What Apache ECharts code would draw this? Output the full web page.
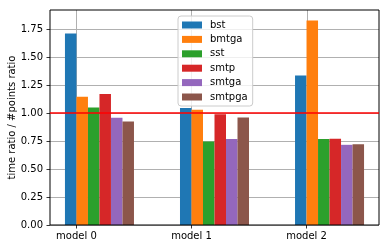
<!DOCTYPE html>
<html><head><meta charset="utf-8">
<script src="https://cdn.jsdelivr.net/npm/echarts@6/dist/echarts.min.js"></script>
<style>html,body{margin:0;padding:0;background:#fff}#c{width:390px;height:249px}</style>
</head><body><div id="c"></div>
<script>
const categories = ['model 0', 'model 1', 'model 2'];
const seriesNames = ['bst', 'bmtga', 'sst', 'smtp', 'smtga', 'smtpga'];
const bst    = [1.71, 1.045, 1.334];
const bmtga  = [1.145, 1.03, 1.826];
const sst    = [1.049, 0.746, 0.767];
const smtp   = [1.169, 0.99, 0.77];
const smtga  = [0.957, 0.767, 0.716];
const smtpga = [0.924, 0.96, 0.722];
const yTicks = [0, 0.25, 0.5, 0.75, 1.0, 1.25, 1.5, 1.75];
const xTicks = [0, 1, 2];
const refValue = 1.0;

const allValues = [bst, bmtga, sst, smtp, smtga, smtpga];
const colors = ['#1f77b4', '#ff7f0e', '#2ca02c', '#d62728', '#9467bd', '#8c564b'];
const barW = 0.1;
const font = 'DejaVu Sans';

const series = [];
// vertical grid lines (under the bars)
series.push({
  type: 'custom', z: 1, silent: true, clip: true,
  data: xTicks.map(v => [v]),
  renderItem: function (params, api) {
    const cs = params.coordSys;
    const px = Math.round(api.coord([api.value(0), 0])[0]) + 0.5;
    return {
      type: 'line',
      shape: { x1: px, y1: cs.y, x2: px, y2: cs.y + cs.height },
      style: { stroke: '#b0b0b0', lineWidth: 1 }
    };
  }
});
allValues.forEach((vals, k) => series.push({
  name: seriesNames[k],
  type: 'custom',
  z: 3,
  silent: true,
  itemStyle: { color: colors[k] },
  data: vals.map((v, i) => [i, v]),
  renderItem: function (params, api) {
    const x = api.value(0) + (k - 0.5) * barW;
    const p0 = api.coord([x - barW / 2, api.value(1)]);
    const p1 = api.coord([x + barW / 2, 0]);
    return {
      type: 'rect',
      shape: { x: p0[0], y: p0[1], width: p1[0] - p0[0], height: p1[1] - p0[1] },
      style: { fill: colors[k] }
    };
  }
}));
series.push({
  type: 'line', data: [], z: 4, silent: true,
  markLine: {
    silent: true, symbol: 'none', label: { show: false }, animation: false,
    lineStyle: { color: '#ff0000', width: 1.5, type: 'solid' },
    data: [{ yAxis: refValue }]
  }
});

const chart = echarts.init(document.getElementById('c'), null, { renderer: 'canvas' });
chart.setOption({
  animation: false,
  backgroundColor: '#fff',
  grid: { left: 50, right: 11, top: 10, bottom: 24, outerBoundsMode: 'none', containLabel: false,
          show: true, borderColor: '#000', borderWidth: 1, backgroundColor: 'transparent', z: 5 },
  legend: {
    orient: 'vertical', left: 178, top: 16,
    data: seriesNames,
    icon: 'rect', itemWidth: 20, itemHeight: 7, itemGap: 2.4,
    padding: [3, 5, 3, 4],
    backgroundColor: 'rgba(255,255,255,0.8)', borderColor: '#cccccc', borderWidth: 1, borderRadius: 3,
    textStyle: { fontFamily: font, fontSize: 10, color: '#000', lineHeight: 12, padding: [0, 0, 0, 3] },
    selectedMode: false, z: 10
  },
  xAxis: {
    type: 'value', min: -0.23, max: 2.63,
    axisLine: { show: false, onZero: false },
    axisTick: { show: true, customValues: xTicks, length: 3.5, lineStyle: { color: '#000', width: 0.8 } },
    axisLabel: { customValues: xTicks, formatter: v => categories[Math.round(v)], fontFamily: font, fontSize: 10, color: '#000', margin: 6 },
    splitLine: { show: false }
  },
  yAxis: {
    type: 'value', min: 0, max: 1.92, interval: 0.25,
    name: 'time ratio / #points ratio', nameLocation: 'middle', nameGap: 33, nameMoveOverlap: false,
    nameTextStyle: { fontFamily: font, fontSize: 10, color: '#000' },
    axisLine: { show: false, onZero: false },
    axisTick: { show: true, customValues: yTicks, length: 3.5, lineStyle: { color: '#000', width: 0.8 } },
    axisLabel: { customValues: yTicks, formatter: v => v.toFixed(2), fontFamily: font, fontSize: 10, color: '#000', margin: 7 },
    splitLine: { show: true, lineStyle: { color: '#b0b0b0', width: 1 } }
  },
  series: series
});
</script>
</body></html>
